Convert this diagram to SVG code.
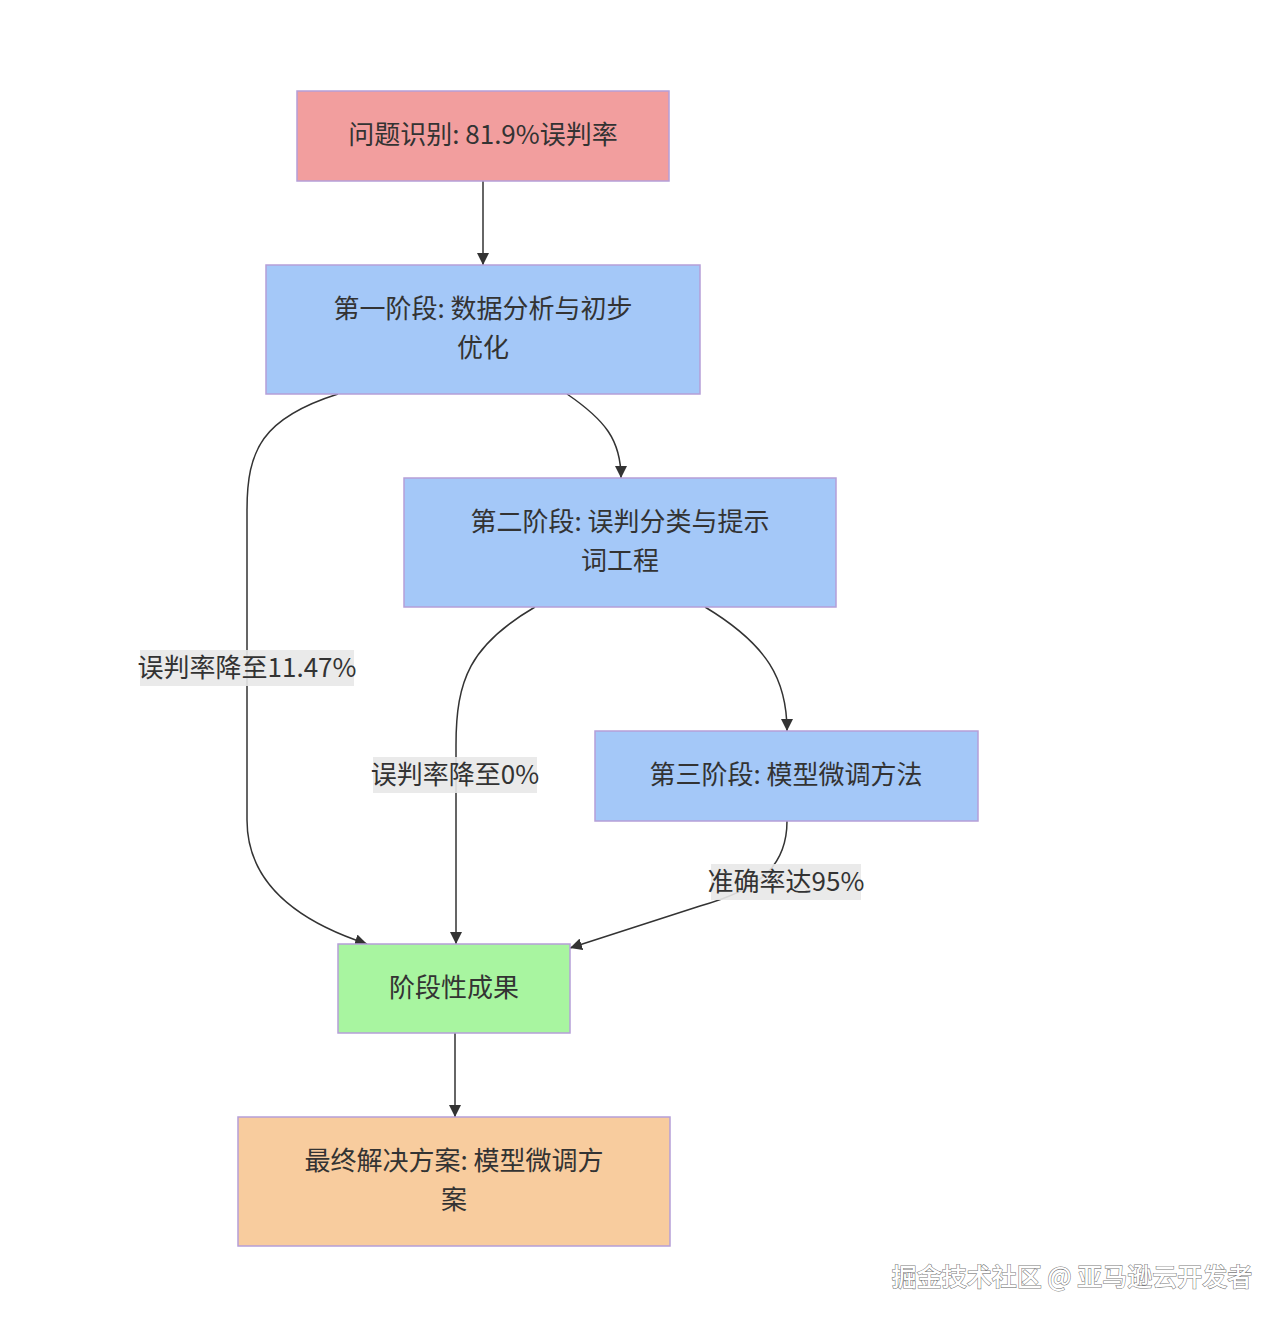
<svg xmlns="http://www.w3.org/2000/svg" width="1286" height="1324" viewBox="0 0 1286 1324">
<style>
.node rect{stroke:#b59fd8;stroke-width:1.5}
.t{font-family:"Noto Sans CJK SC","Noto Sans",sans-serif;font-size:26px;fill:#333;text-anchor:middle}
.edges path{fill:none;stroke:#333;stroke-width:1.5}
.lbl rect{fill:#e8e8e8;opacity:0.9}
.wm{font-family:"Noto Sans CJK SC",sans-serif;font-size:25px;font-weight:500;fill:#fff;stroke:#7a7a7a;stroke-width:1.1;paint-order:stroke}
</style>
<defs>
<marker id="arr" viewBox="0 0 12 12" refX="12" refY="6" markerWidth="12" markerHeight="12" markerUnits="userSpaceOnUse" orient="auto">
<path d="M0,0 L12,6 L0,12 z" fill="#333"/>
</marker>
</defs>
<rect width="1286" height="1324" fill="#fff"/>
<g class="edges">
<path d="M483,181 L483,265" marker-end="url(#arr)"/>
<path d="M567,394 C605,420 621,440 621,478" marker-end="url(#arr)"/>
<path d="M338,394 C262,418 247,450 247,510 L247,820 C247,885 300,922 367,944" marker-end="url(#arr)"/>
<path d="M535,607 C470,645 456,680 456,745 L456,944" marker-end="url(#arr)"/>
<path d="M705,607 C768,645 787,680 787,731" marker-end="url(#arr)"/>
<path d="M787,821 C787,862 765,888 700,906 L570,948" marker-end="url(#arr)"/>
<path d="M455,1033 L455,1117" marker-end="url(#arr)"/>
</g>
<g class="lbl">
<rect x="140" y="650" width="214" height="36"/>
<text class="t" x="247" y="677">误判率降至11.47%</text>
<rect x="373" y="757" width="164" height="36"/>
<text class="t" x="455" y="784">误判率降至0%</text>
<rect x="711" y="864" width="150" height="36"/>
<text class="t" x="786" y="891">准确率达95%</text>
</g>
<g id="n1" class="node">
<rect x="297" y="91" width="372" height="90" fill="#f29e9e"/>
<text class="t" x="483" y="144">问题识别: 81.9%误判率</text>
</g>
<g id="n2" class="node">
<rect x="266" y="265" width="434" height="129" fill="#a4c8f8"/>
<text class="t" x="483" y="318">第一阶段: 数据分析与初步</text>
<text class="t" x="483" y="357">优化</text>
</g>
<g id="n3" class="node">
<rect x="404" y="478" width="432" height="129" fill="#a4c8f8"/>
<text class="t" x="620" y="531">第二阶段: 误判分类与提示</text>
<text class="t" x="620" y="570">词工程</text>
</g>
<g id="n4" class="node">
<rect x="595" y="731" width="383" height="90" fill="#a4c8f8"/>
<text class="t" x="786" y="784">第三阶段: 模型微调方法</text>
</g>
<g id="n5" class="node">
<rect x="338" y="944" width="232" height="89" fill="#a8f5a0"/>
<text class="t" x="454" y="997">阶段性成果</text>
</g>
<g id="n6" class="node">
<rect x="238" y="1117" width="432" height="129" fill="#f8cc9e"/>
<text class="t" x="454" y="1170">最终解决方案: 模型微调方</text>
<text class="t" x="454" y="1209">案</text>
</g>
<text class="wm" x="1072" y="1286" text-anchor="middle">掘金技术社区 @ 亚马逊云开发者</text>
</svg>
